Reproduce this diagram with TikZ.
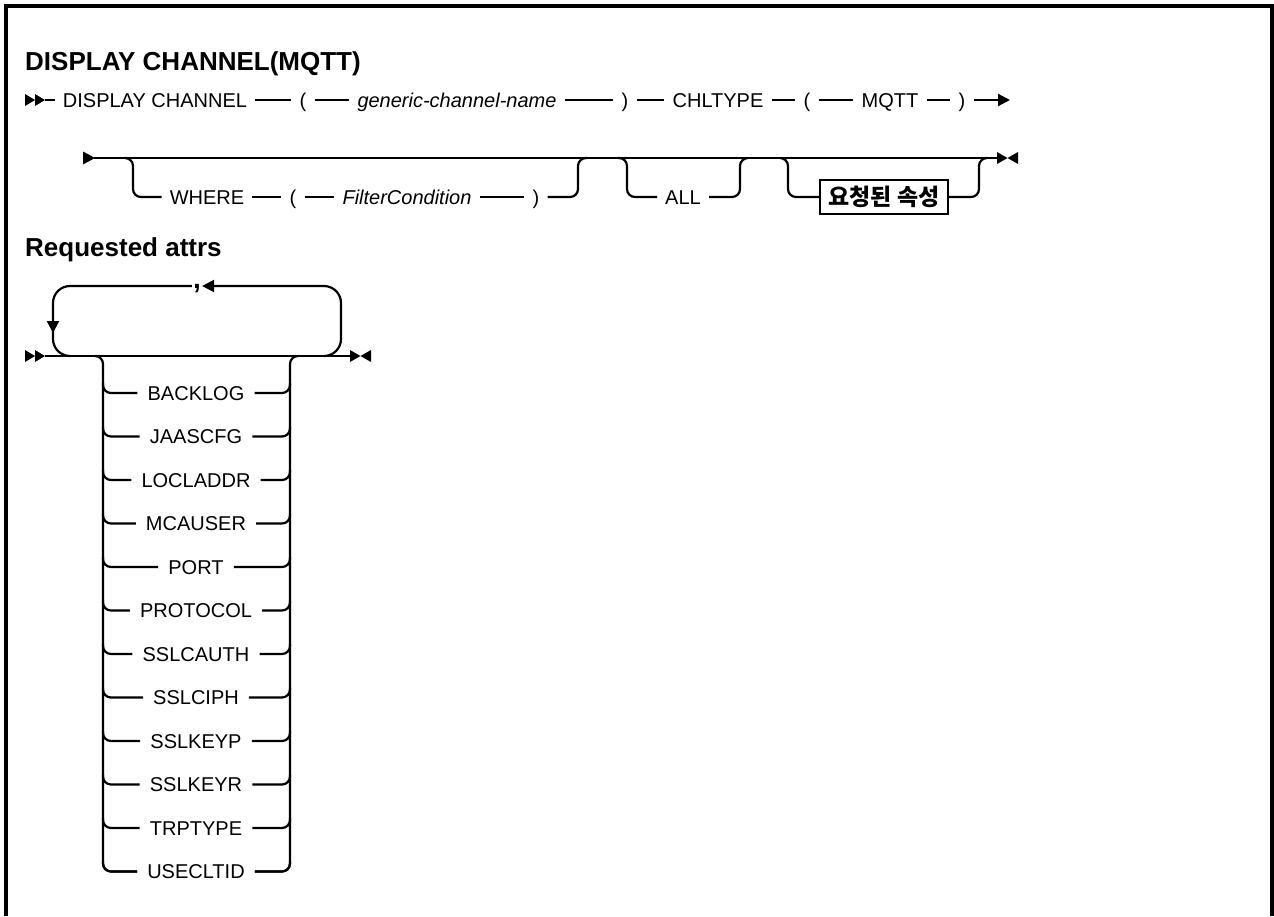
\documentclass[tikz,border=0pt]{standalone}
\usepackage{fontspec}
\setmainfont{Liberation Sans}
\newfontfamily\kofont{Noto Sans CJK KR}
\usetikzlibrary{arrows.meta}
\tikzset{rail/.style={line width=2.2pt,line join=round},
  goes/.style={rail,-{Triangle[length=12pt,width=12pt]}},
  kw/.style={font=\fontsize{20}{23}\selectfont,inner xsep=8pt,inner ysep=0pt,
    text height=14.5pt,text depth=0pt},
  var/.style={kw,font=\fontsize{20}{23}\selectfont\itshape},
  head/.style={font=\fontsize{26}{30}\selectfont\bfseries,anchor=base west,inner sep=0pt},
  refbox/.style={draw,line width=2pt,minimum width=128pt,minimum height=34pt,
    inner sep=0pt,font=\kofont\fontsize{23}{26}\selectfont\bfseries},
  twohead/.pic={\fill (0,-6) -- (0,6) -- (10,0) -- cycle;
    \fill (10,-6) -- (10,6) -- (20,0) -- cycle;},
  onehead/.pic={\fill (0,-6.5) -- (0,6.5) -- (12,0) -- cycle;},
  stopmark/.pic={\fill (0,-6) -- (0,6) -- (10.5,0) -- cycle;
    \fill (21,-6) -- (21,6) -- (10.5,0) -- cycle;}}

\begin{document}
\begin{tikzpicture}[x=1pt,y=-1pt]
\useasboundingbox (0,0) rectangle (1274,916);
% frame, open at the bottom
\draw[line width=3.2pt] (6,916) -- (6,6) -- (1272,6) -- (1272,916);

% first line
\node[head] (title) at (25,70) {DISPLAY CHANNEL(MQTT)};
\pic at (25,100) {twohead};
\coordinate (r1start) at (45,100);
\coordinate (r1end) at (1010,100);
\node[kw] (dispch) at (155,100) {DISPLAY CHANNEL};
\node[kw] (lpa) at (303,100) {(};
\node[var] (chname) at (457,100) {generic-channel-name};
\node[kw] (rpa) at (625,100) {)};
\node[kw] (chltype) at (718,100) {CHLTYPE};
\node[kw] (lpb) at (807,100) {(};
\node[kw] (mqtt) at (890,100) {MQTT};
\node[kw] (rpb) at (962,100) {)};
\draw[rail] (r1start) -- (dispch.west);
\foreach \a/\b in {dispch/lpa,lpa/chname,chname/rpa,rpa/chltype,chltype/lpb,lpb/mqtt,mqtt/rpb}
  \draw[rail] (\a.east) -- (\b.west);
\draw[goes] (rpb.east) -- (r1end);

% second line
\pic at (83,158) {onehead};
\coordinate (r2start) at (94,158);
\coordinate (r2end) at (997,158);
\pic at (997,158) {stopmark};
\draw[rail] (r2start) -- (r2end);
\node[kw] (where) at (207,197) {WHERE};
\node[kw] (lpc) at (293,197) {(};
\node[var] (filter) at (407,197) {FilterCondition};
\node[kw] (rpc) at (536,197) {)};
\node[kw] (all) at (683,197) {ALL};
\node[refbox] (reqbox) at (884,197) {요청된 속성};
\foreach \a/\b in {where/lpc,lpc/filter,filter/rpc}
  \draw[rail] (\a.east) -- (\b.west);
\coordinate (wsplit) at (125,158);
\coordinate (wjoin) at (587,158);
\coordinate (asplit) at (618,158);
\coordinate (ajoin) at (748,158);
\coordinate (bsplit) at (780,158);
\coordinate (bjoin) at (987,158);
\begin{scope}[rounded corners=8pt]
\draw[rail] (wsplit) -- ([xshift=8pt]wsplit) |- (where.west);
\draw[rail] (rpc.east) -| ([xshift=-9pt]wjoin) -- (wjoin);
\draw[rail] (asplit) -- ([xshift=9pt]asplit) |- (all.west);
\draw[rail] (all.east) -| ([xshift=-8pt]ajoin) -- (ajoin);
\draw[rail] (bsplit) -- ([xshift=8pt]bsplit) |- (reqbox.west);
\draw[rail] (reqbox.east) -| ([xshift=-8pt]bjoin) -- (bjoin);
\end{scope}

% requested attrs
\node[head] (reqhead) at (25,256) {Requested attrs};
\pic at (25,356) {twohead};
\coordinate (s2start) at (45,356);
\coordinate (s2end) at (350,356);
\pic at (350,356) {stopmark};
\draw[rail] (s2start) -- (s2end);
\node[font=\fontsize{28}{30}\selectfont\bfseries,inner sep=1pt,anchor=base] (comma) at (197,288) {,};
\coordinate (lbr) at (341,356);
\coordinate (ltr) at (341,286);
\coordinate (ltl) at (53,286);
\coordinate (lbl) at (53,356);
\draw[goes,rounded corners=17pt] ([xshift=-17pt]lbr) -- (lbr) -- (ltr) -- (ltr -| comma.east);
\draw[rail,rounded corners=17pt] (ltl -| comma.west) -- (ltl) -- (lbl) -- ([xshift=17pt]lbl);
\draw[goes] ([yshift=-30pt]ltl) -- ([yshift=-47pt]ltl);
\coordinate (sl) at (103,356);
\coordinate (sr) at (290,356);
\foreach \a [count=\i, evaluate=\i as \y using 393+43.5*(\i-1)] in
  {BACKLOG,JAASCFG,LOCLADDR,MCAUSER,PORT,PROTOCOL,SSLCAUTH,SSLCIPH,SSLKEYP,SSLKEYR,TRPTYPE,USECLTID} {
  \node[kw,inner xsep=10pt] (a\i) at (196,\y) {\a};
  \draw[rail,rounded corners=8pt] (103,\y-10) -- (103,\y) -- (a\i.west);
  \draw[rail,rounded corners=8pt] (a\i.east) -- (290,\y) -- (290,\y-10);}
\draw[rail,rounded corners=8pt] ([xshift=-8pt]sl) -- (sl) |- (a12.west);
\draw[rail,rounded corners=8pt] (a12.east) -| (sr) -- ([xshift=8pt]sr);
\end{tikzpicture}
\end{document}
